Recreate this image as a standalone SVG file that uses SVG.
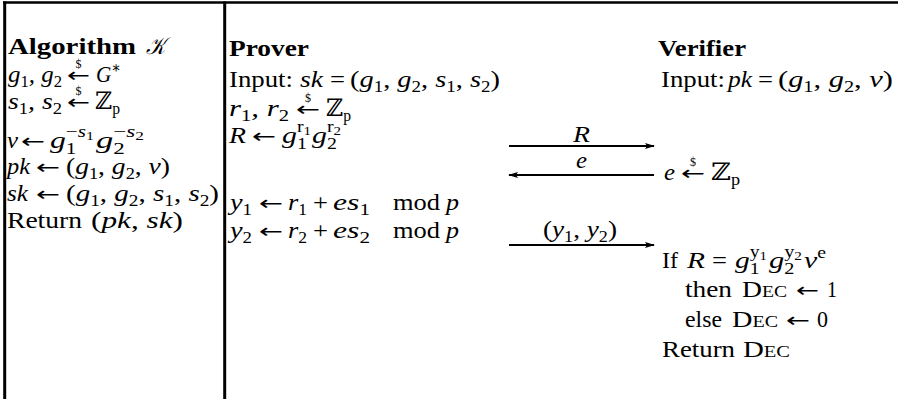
<svg xmlns="http://www.w3.org/2000/svg" width="898" height="399" viewBox="0 0 898 399">
<style>
text{font-family:"Liberation Serif","DejaVu Serif",serif;font-size:24px;fill:#000}
.b{font-weight:bold}
.i{font-style:italic}
.s{font-size:16px;font-style:normal}
.ss{font-size:12px}
.d{font-size:12px;text-anchor:middle}
.sc{font-size:17px}
.ar{font-family:"DejaVu Sans",sans-serif;font-size:20px}
.rule{stroke:#000;fill:none}
.conn{stroke:#000;stroke-width:2}
</style>
<defs>
<marker id="ah" viewBox="0 0 10 6" refX="9" refY="3" markerWidth="10" markerHeight="6" markerUnits="userSpaceOnUse" orient="auto-start-reverse">
<path d="M0,0 L10,3 L0,6 L2,3 Z" fill="#000"/>
</marker>
</defs>
<rect width="898" height="399" fill="#fff"/>
<g id="frame">
<line class="rule" x1="3" y1="2.5" x2="898" y2="2.5" stroke-width="2.5"/>
<line class="rule" x1="4.7" y1="1.5" x2="4.7" y2="399" stroke-width="3"/>
<line class="rule" x1="224.7" y1="1.5" x2="224.7" y2="399" stroke-width="3"/>
</g>
<g id="keygen">
<text x="8" y="54" class="b" textLength="128" lengthAdjust="spacingAndGlyphs">Algorithm</text>
<text x="146" y="54" class="i" textLength="19" lengthAdjust="spacingAndGlyphs">𝒦</text>

<text x="8" y="82" class="i" textLength="54" lengthAdjust="spacingAndGlyphs">g<tspan class="s" baseline-shift="-5">1</tspan>, g<tspan class="s" baseline-shift="-5">2</tspan></text>
<text x="67" y="82" class="ar" textLength="23" lengthAdjust="spacingAndGlyphs">←</text>
<text x="78.5" y="68" class="d">$</text>
<text x="96" y="82" class="i" textLength="25" lengthAdjust="spacingAndGlyphs">G<tspan class="s" baseline-shift="9">∗</tspan></text>

<text x="8" y="109" class="i" textLength="54" lengthAdjust="spacingAndGlyphs">s<tspan class="s" baseline-shift="-5">1</tspan>, s<tspan class="s" baseline-shift="-5">2</tspan></text>
<text x="67" y="109" class="ar" textLength="23" lengthAdjust="spacingAndGlyphs">←</text>
<text x="78.5" y="95" class="d">$</text>
<text x="95" y="109" textLength="25" lengthAdjust="spacingAndGlyphs">ℤ<tspan class="s i" baseline-shift="-5">p</tspan></text>

<text x="7" y="148" class="i" textLength="11" lengthAdjust="spacingAndGlyphs">v</text>
<text x="21" y="148" class="ar" textLength="24" lengthAdjust="spacingAndGlyphs">←</text>
<text x="50" y="148" class="i" textLength="44" lengthAdjust="spacingAndGlyphs">g<tspan class="s" baseline-shift="-6">1</tspan><tspan class="s" dx="-8" baseline-shift="11">−<tspan class="i">s</tspan><tspan class="ss" baseline-shift="-3">1</tspan></tspan></text>
<text x="96" y="148" class="i" textLength="48" lengthAdjust="spacingAndGlyphs">g<tspan class="s" baseline-shift="-6">2</tspan><tspan class="s" dx="-8" baseline-shift="11">−<tspan class="i">s</tspan><tspan class="ss" baseline-shift="-3">2</tspan></tspan></text>

<text x="7" y="174" class="i" textLength="23" lengthAdjust="spacingAndGlyphs">pk</text>
<text x="36" y="174" class="ar" textLength="24" lengthAdjust="spacingAndGlyphs">←</text>
<text x="66" y="174" textLength="104" lengthAdjust="spacingAndGlyphs">(<tspan class="i">g</tspan><tspan class="s" baseline-shift="-5">1</tspan>, <tspan class="i">g</tspan><tspan class="s" baseline-shift="-5">2</tspan>, <tspan class="i">v</tspan>)</text>

<text x="7" y="201" class="i" textLength="21" lengthAdjust="spacingAndGlyphs">sk</text>
<text x="36" y="201" class="ar" textLength="24" lengthAdjust="spacingAndGlyphs">←</text>
<text x="66" y="201" textLength="153" lengthAdjust="spacingAndGlyphs">(<tspan class="i">g</tspan><tspan class="s" baseline-shift="-5">1</tspan>, <tspan class="i">g</tspan><tspan class="s" baseline-shift="-5">2</tspan>, <tspan class="i">s</tspan><tspan class="s" baseline-shift="-5">1</tspan>, <tspan class="i">s</tspan><tspan class="s" baseline-shift="-5">2</tspan>)</text>

<text x="7" y="228" textLength="75" lengthAdjust="spacingAndGlyphs">Return</text>
<text x="91" y="228" textLength="92" lengthAdjust="spacingAndGlyphs">(<tspan class="i">pk</tspan>, <tspan class="i">sk</tspan>)</text>
</g>
<g id="prover">
<text x="229" y="56" class="b" textLength="80" lengthAdjust="spacingAndGlyphs">Prover</text>

<text x="229" y="87" textLength="64" lengthAdjust="spacingAndGlyphs">Input:</text>
<text x="300" y="87" class="i" textLength="23" lengthAdjust="spacingAndGlyphs">sk</text>
<text x="330" y="87" textLength="15" lengthAdjust="spacingAndGlyphs">=</text>
<text x="350" y="87" textLength="150" lengthAdjust="spacingAndGlyphs">(<tspan class="i">g</tspan><tspan class="s" baseline-shift="-5">1</tspan>, <tspan class="i">g</tspan><tspan class="s" baseline-shift="-5">2</tspan>, <tspan class="i">s</tspan><tspan class="s" baseline-shift="-5">1</tspan>, <tspan class="i">s</tspan><tspan class="s" baseline-shift="-5">2</tspan>)</text>

<text x="229" y="116" class="i" textLength="60" lengthAdjust="spacingAndGlyphs">r<tspan class="s" baseline-shift="-5">1</tspan>, r<tspan class="s" baseline-shift="-5">2</tspan></text>
<text x="296" y="116" class="ar" textLength="24" lengthAdjust="spacingAndGlyphs">←</text>
<text x="308" y="102" class="d">$</text>
<text x="326" y="116" textLength="25" lengthAdjust="spacingAndGlyphs">ℤ<tspan class="s i" baseline-shift="-5">p</tspan></text>

<text x="229" y="143" class="i" textLength="17" lengthAdjust="spacingAndGlyphs">R</text>
<text x="252" y="143" class="ar" textLength="24" lengthAdjust="spacingAndGlyphs">←</text>
<text x="282" y="143" class="i" textLength="29" lengthAdjust="spacingAndGlyphs">g<tspan class="s" baseline-shift="-6">1</tspan><tspan class="s i" dx="-8" baseline-shift="11">r<tspan class="ss" font-style="normal" baseline-shift="-3">1</tspan></tspan></text>
<text x="312" y="143" class="i" textLength="29" lengthAdjust="spacingAndGlyphs">g<tspan class="s" baseline-shift="-6">2</tspan><tspan class="s i" dx="-8" baseline-shift="11">r<tspan class="ss" font-style="normal" baseline-shift="-3">2</tspan></tspan></text>

<text x="230" y="210" class="i" textLength="22" lengthAdjust="spacingAndGlyphs">y<tspan class="s" baseline-shift="-5">1</tspan></text>
<text x="259" y="210" class="ar" textLength="24" lengthAdjust="spacingAndGlyphs">←</text>
<text x="288" y="210" class="i" textLength="19" lengthAdjust="spacingAndGlyphs">r<tspan class="s" baseline-shift="-5">1</tspan></text>
<text x="313" y="210" textLength="15" lengthAdjust="spacingAndGlyphs">+</text>
<text x="333" y="210" class="i" textLength="37" lengthAdjust="spacingAndGlyphs">es<tspan class="s" baseline-shift="-5">1</tspan></text>
<text x="393" y="210" textLength="47" lengthAdjust="spacingAndGlyphs">mod</text>
<text x="446" y="210" class="i" textLength="13" lengthAdjust="spacingAndGlyphs">p</text>

<text x="230" y="238" class="i" textLength="22" lengthAdjust="spacingAndGlyphs">y<tspan class="s" baseline-shift="-5">2</tspan></text>
<text x="259" y="238" class="ar" textLength="24" lengthAdjust="spacingAndGlyphs">←</text>
<text x="288" y="238" class="i" textLength="19" lengthAdjust="spacingAndGlyphs">r<tspan class="s" baseline-shift="-5">2</tspan></text>
<text x="313" y="238" textLength="15" lengthAdjust="spacingAndGlyphs">+</text>
<text x="333" y="238" class="i" textLength="37" lengthAdjust="spacingAndGlyphs">es<tspan class="s" baseline-shift="-5">2</tspan></text>
<text x="393" y="238" textLength="47" lengthAdjust="spacingAndGlyphs">mod</text>
<text x="446" y="238" class="i" textLength="13" lengthAdjust="spacingAndGlyphs">p</text>
</g>
<g id="verifier">
<text x="658" y="56" class="b" textLength="88" lengthAdjust="spacingAndGlyphs">Verifier</text>

<text x="661" y="87" textLength="64" lengthAdjust="spacingAndGlyphs">Input:</text>
<text x="728" y="87" class="i" textLength="24" lengthAdjust="spacingAndGlyphs">pk</text>
<text x="758" y="87" textLength="15" lengthAdjust="spacingAndGlyphs">=</text>
<text x="778" y="87" textLength="115" lengthAdjust="spacingAndGlyphs">(<tspan class="i">g</tspan><tspan class="s" baseline-shift="-5">1</tspan>, <tspan class="i">g</tspan><tspan class="s" baseline-shift="-5">2</tspan>, <tspan class="i">v</tspan>)</text>

<text x="664" y="180" class="i" textLength="11" lengthAdjust="spacingAndGlyphs">e</text>
<text x="681" y="180" class="ar" textLength="24" lengthAdjust="spacingAndGlyphs">←</text>
<text x="693" y="166" class="d">$</text>
<text x="711" y="180" textLength="29" lengthAdjust="spacingAndGlyphs">ℤ<tspan class="s i" baseline-shift="-5">p</tspan></text>

<text x="662" y="268" textLength="16" lengthAdjust="spacingAndGlyphs">If</text>
<text x="687" y="268" class="i" textLength="18" lengthAdjust="spacingAndGlyphs">R</text>
<text x="712" y="268" textLength="15" lengthAdjust="spacingAndGlyphs">=</text>
<text x="735" y="268" class="i" textLength="32" lengthAdjust="spacingAndGlyphs">g<tspan class="s" baseline-shift="-6">1</tspan><tspan class="s i" dx="-8" baseline-shift="11">y<tspan class="ss" font-style="normal" baseline-shift="-3">1</tspan></tspan></text>
<text x="769" y="268" class="i" textLength="33" lengthAdjust="spacingAndGlyphs">g<tspan class="s" baseline-shift="-6">2</tspan><tspan class="s i" dx="-8" baseline-shift="11">y<tspan class="ss" font-style="normal" baseline-shift="-3">2</tspan></tspan></text>
<text x="804" y="268" class="i" textLength="22" lengthAdjust="spacingAndGlyphs">v<tspan class="s i" baseline-shift="10">e</tspan></text>

<text x="685" y="297" textLength="47" lengthAdjust="spacingAndGlyphs">then</text>
<text x="742" y="297" textLength="45" lengthAdjust="spacingAndGlyphs">D<tspan class="sc">EC</tspan></text>
<text x="796" y="297" class="ar" textLength="23" lengthAdjust="spacingAndGlyphs">←</text>
<text x="827" y="297" textLength="10" lengthAdjust="spacingAndGlyphs">1</text>

<text x="685" y="327" textLength="37" lengthAdjust="spacingAndGlyphs">else</text>
<text x="732" y="327" textLength="46" lengthAdjust="spacingAndGlyphs">D<tspan class="sc">EC</tspan></text>
<text x="786" y="327" class="ar" textLength="24" lengthAdjust="spacingAndGlyphs">←</text>
<text x="817" y="327" textLength="11" lengthAdjust="spacingAndGlyphs">0</text>

<text x="662" y="357" textLength="73" lengthAdjust="spacingAndGlyphs">Return</text>
<text x="743" y="357" textLength="47" lengthAdjust="spacingAndGlyphs">D<tspan class="sc">EC</tspan></text>
</g>
<g id="connectors">
<line class="conn" x1="509" y1="146" x2="654" y2="146" marker-end="url(#ah)"/>
<text x="573" y="142" class="i" textLength="17" lengthAdjust="spacingAndGlyphs">R</text>
<line class="conn" x1="654" y1="175" x2="509" y2="175" marker-end="url(#ah)"/>
<text x="576" y="168" class="i" textLength="11" lengthAdjust="spacingAndGlyphs">e</text>
<line class="conn" x1="509" y1="245" x2="654" y2="245" marker-end="url(#ah)"/>
<text x="543" y="237" textLength="74" lengthAdjust="spacingAndGlyphs">(<tspan class="i">y</tspan><tspan class="s" baseline-shift="-5">1</tspan>, <tspan class="i">y</tspan><tspan class="s" baseline-shift="-5">2</tspan>)</text>
</g>
</svg>
